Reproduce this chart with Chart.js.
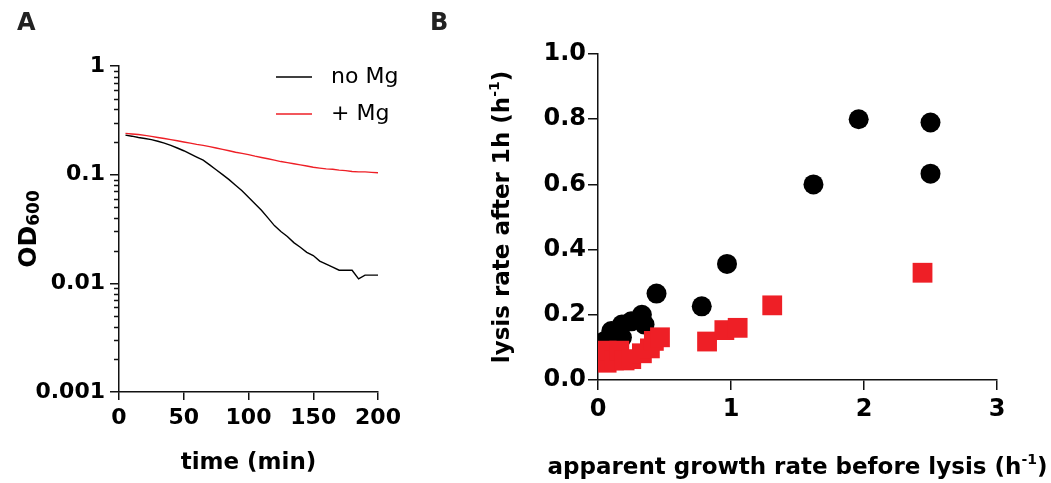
<!DOCTYPE html>
<html>
<head>
<meta charset="utf-8">
<script src="https://cdn.jsdelivr.net/npm/chart.js@4.4.1/dist/chart.umd.min.js"></script>
<style>
  body { margin: 0; background: #fff; }
  .wrap { position: relative; width: 1051px; height: 483px; }
  .panel { position: absolute; top: 0; }
  .tag { position: absolute; font: bold 24px 'DejaVu Sans'; line-height: 24px; color: #222; }
</style>
</head>
<body>
<div class="wrap">
  <canvas id="panelA" class="panel" style="left:0" width="470" height="483"></canvas>
  <canvas id="panelB" class="panel" style="left:470px" width="581" height="483"></canvas>
  <div class="tag" style="left:17px;top:10px">A</div>
  <div class="tag" style="left:430px;top:10px">B</div>
</div>
<script>
// ---- Panel A : OD600 over time ----
const timeMin = [5, 10, 15, 20, 25, 30, 35, 40, 45, 50, 55, 60, 65, 70, 75, 80, 85, 90, 95, 100,
  105, 110, 115, 120, 125, 130, 135, 140, 145, 150, 155, 160, 165, 170, 175, 180, 185, 190, 195, 200];
const odNoMg = [0.231, 0.226, 0.220, 0.215, 0.210, 0.203, 0.195, 0.186, 0.176, 0.166,
  0.155, 0.145, 0.136, 0.123, 0.111, 0.100, 0.090, 0.080, 0.071, 0.062,
  0.054, 0.047, 0.040, 0.034, 0.030, 0.027, 0.0237, 0.0215, 0.0193, 0.018,
  0.016, 0.015, 0.0141, 0.0132, 0.0132, 0.0132, 0.011, 0.0119, 0.0119, 0.0119];
const odPlusMg = [0.240, 0.237, 0.234, 0.230, 0.225, 0.220, 0.215, 0.210, 0.205, 0.200,
  0.195, 0.190, 0.186, 0.181, 0.176, 0.171, 0.166, 0.161, 0.157, 0.153,
  0.148, 0.144, 0.140, 0.136, 0.132, 0.129, 0.126, 0.123, 0.120, 0.117,
  0.115, 0.113, 0.112, 0.110, 0.109, 0.107, 0.106, 0.106, 0.105, 0.104];
const odTicks = [0.001, 0.01, 0.1, 1];
const timeTicks = [0, 50, 100, 150, 200];

// ---- Panel B : lysis rate vs growth rate ----
const growthNoMg = [0.05, 0.10, 0.18, 0.18, 0.25, 0.33, 0.35, 0.44, 0.78, 0.97, 1.62, 1.96, 2.50, 2.50];
const lysisNoMg  = [0.12, 0.15, 0.17, 0.13, 0.18, 0.20, 0.17, 0.265, 0.226, 0.356, 0.60, 0.80, 0.79, 0.633];
const growthPlusMg = [0.04, 0.065, 0.065, 0.12, 0.16, 0.20, 0.25, 0.33, 0.39, 0.42, 0.466, 0.82, 0.95, 1.05, 1.31, 2.44];
const lysisPlusMg  = [0.06, 0.053, 0.09, 0.06, 0.09, 0.06, 0.064, 0.082, 0.097, 0.12, 0.131, 0.118, 0.153, 0.160, 0.229, 0.329];

const FONT = 'DejaVu Sans';
const RED = '#ee1f26';

// axis titles with sub/superscripts: [text, size, shift]
const titleOD = [['OD', 25, 0], ['600', 17, 3]];
const titleGrowth = [['apparent growth rate before lysis (h', 23, 0], ['-1', 14, -10], [')', 23, 0]];
const titleLysis = [['lysis rate after 1h (h', 23, 0], ['-1', 14, -10], [')', 23, 0]];

function fixSize(w, h) {
  return function (scale) {
    if (w) scale.width = w;
    if (h) scale.height = h;
  };
}

function axisStyle(tickLen, size) {
  return {
    grid: { drawOnChartArea: false, drawTicks: true, tickLength: tickLen, color: '#111', lineWidth: 1.5 },
    border: { display: true, color: '#111', width: 1.5 },
    ticks: { color: '#000', font: { family: FONT, size: size, weight: 'bold' } }
  };
}

// draws a title made of pieces, centred on (cx, cy), optionally rotated
function drawRich(ctx, parts, cx, cy, rot) {
  ctx.save();
  ctx.translate(cx, cy);
  ctx.rotate(rot);
  ctx.fillStyle = '#000';
  ctx.textBaseline = 'alphabetic';
  let total = 0;
  parts.forEach(p => { ctx.font = 'bold ' + p[1] + 'px ' + FONT; total += ctx.measureText(p[0]).width; });
  let x = -total / 2;
  const base = 8;
  parts.forEach(p => {
    ctx.font = 'bold ' + p[1] + 'px ' + FONT;
    ctx.fillText(p[0], x, base + p[2]);
    x += ctx.measureText(p[0]).width;
  });
  ctx.restore();
}

// small ticks between decades, legend inside the plot, y title
const panelAExtras = {
  id: 'panelAExtras',
  afterDraw(chart) {
    const ctx = chart.ctx;
    const y = chart.scales.y;
    const area = chart.chartArea;
    ctx.save();
    ctx.strokeStyle = '#111';
    ctx.lineWidth = 1.5;
    for (let d = 0; d < odTicks.length - 1; d++) {
      for (let k = 2; k <= 9; k++) {
        const py = Math.round(y.getPixelForValue(odTicks[d] * k)) + 0.5;
        ctx.beginPath();
        ctx.moveTo(area.left - 5, py);
        ctx.lineTo(area.left, py);
        ctx.stroke();
      }
    }
    ctx.font = '22px ' + FONT;
    ctx.textBaseline = 'middle';
    ctx.fillStyle = '#000';
    chart.data.datasets.forEach((ds, i) => {
      const ly = area.top + 11 + i * 37;
      ctx.strokeStyle = ds.borderColor;
      ctx.lineWidth = 1.5;
      ctx.beginPath();
      ctx.moveTo(area.right - 102, ly);
      ctx.lineTo(area.right - 66, ly);
      ctx.stroke();
      ctx.fillText(ds.label, area.right - 47, ly);
    });
    ctx.restore();
    drawRich(ctx, titleOD, 28, (area.top + area.bottom) / 2, -Math.PI / 2);
  }
};

const panelBTitles = {
  id: 'panelBTitles',
  afterDraw(chart) {
    const area = chart.chartArea;
    drawRich(chart.ctx, titleGrowth, (area.left + area.right) / 2, 466, 0);
    drawRich(chart.ctx, titleLysis, 31, (area.top + area.bottom) / 2, -Math.PI / 2);
  }
};

const ax = axisStyle(8, 22);
const ay = axisStyle(9, 22);

new Chart(document.getElementById('panelA'), {
  type: 'line',
  data: {
    datasets: [
      { label: 'no Mg', data: timeMin.map((t, i) => ({ x: t, y: odNoMg[i] })),
        borderColor: '#000', borderWidth: 1.4, pointRadius: 0, tension: 0 },
      { label: '+ Mg', data: timeMin.map((t, i) => ({ x: t, y: odPlusMg[i] })),
        borderColor: RED, borderWidth: 1.4, pointRadius: 0, tension: 0 }
    ]
  },
  options: {
    responsive: false,
    animation: false,
    layout: { padding: { top: 66, right: 92, left: 0, bottom: 0 } },
    plugins: { legend: { display: false }, tooltip: { enabled: false } },
    scales: {
      x: {
        type: 'linear', min: 0, max: 200,
        grid: ax.grid, border: ax.border,
        afterFit: fixSize(0, 91),
        afterBuildTicks: s => { s.ticks = timeTicks.map(v => ({ value: v })); },
        ticks: Object.assign({}, ax.ticks, { padding: 5 }),
        title: { display: true, text: 'time (min)', color: '#000',
          font: { family: FONT, size: 23, weight: 'bold' }, padding: { top: 0, bottom: 6 } }
      },
      y: {
        type: 'logarithmic', min: 0.001, max: 1,
        grid: ay.grid, border: ay.border,
        afterFit: fixSize(119, 0),
        afterBuildTicks: s => { s.ticks = odTicks.map(v => ({ value: v })); },
        ticks: Object.assign({}, ay.ticks, { padding: 5, callback: v => String(v) })
      }
    }
  },
  plugins: [panelAExtras]
});

const bx = axisStyle(10, 24);
const by = axisStyle(10, 24);

new Chart(document.getElementById('panelB'), {
  type: 'scatter',
  data: {
    datasets: [
      { label: 'no Mg', data: growthNoMg.map((g, i) => ({ x: g, y: lysisNoMg[i] })),
        backgroundColor: '#000', borderWidth: 0, pointRadius: 10, pointStyle: 'circle', order: 1 },
      { label: '+ Mg', data: growthPlusMg.map((g, i) => ({ x: g, y: lysisPlusMg[i] })),
        backgroundColor: RED, borderWidth: 0, pointRadius: 14, pointStyle: 'rect', order: 0 }
    ]
  },
  options: {
    responsive: false,
    animation: false,
    layout: { padding: { top: 54, right: 54, left: 0, bottom: 0 } },
    plugins: { legend: { display: false }, tooltip: { enabled: false } },
    scales: {
      x: {
        type: 'linear', min: 0, max: 3,
        grid: bx.grid, border: bx.border,
        afterFit: fixSize(0, 103),
        ticks: Object.assign({}, bx.ticks, { stepSize: 1, padding: 5 })
      },
      y: {
        type: 'linear', min: 0, max: 1,
        grid: by.grid, border: by.border,
        afterFit: fixSize(128, 0),
        ticks: Object.assign({}, by.ticks, { stepSize: 0.2, padding: 2, callback: v => v.toFixed(1) })
      }
    }
  },
  plugins: [panelBTitles]
});
</script>
</body>
</html>
